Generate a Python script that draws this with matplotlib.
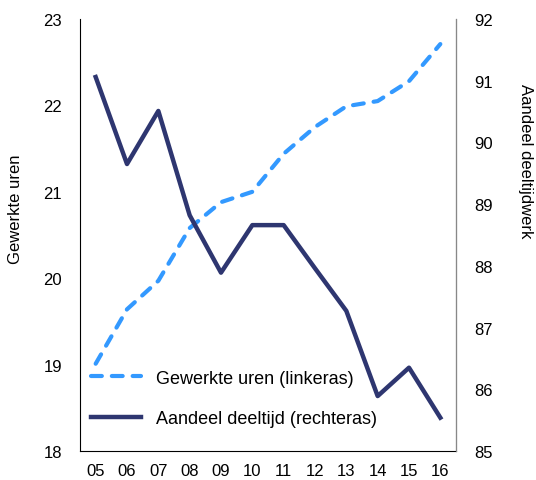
import matplotlib
matplotlib.use('Agg')
import matplotlib.pyplot as plt

plt.rcParams['font.family'] = ['Liberation Sans', 'DejaVu Sans']

years = ['05', '06', '07', '08', '09', '10', '11', '12', '13', '14', '15', '16']
uren = [19.01, 19.64, 19.97, 20.58, 20.88, 21.0, 21.44, 21.75, 21.99, 22.05, 22.28, 22.71]
deeltijd = [91.06, 89.65, 90.51, 88.82, 87.89, 88.66, 88.66, 87.96, 87.27, 85.89, 86.35, 85.54]

fig = plt.figure(figsize=(5.36, 4.81), dpi=100)
ax = fig.add_axes([80/536, 1 - 452/481, 376/536, 432/481])
ax2 = ax.twinx()

x = list(range(len(years)))
l1, = ax.plot(x, uren, color='#3399ff', lw=3, dashes=(2.6, 2.4),
              dash_capstyle='round', label='Gewerkte uren (linkeras)')
l2, = ax2.plot(x, deeltijd, color='#2e3670', lw=3.2,
               label='Aandeel deeltijd (rechteras)')

ax.set_xlim(-0.5, 11.5)
ax.set_ylim(18, 23)
ax2.set_ylim(85, 92)
ax.set_xticks(x)
ax.set_xticklabels(years)
ax.set_yticks(range(18, 24))
ax2.set_yticks(range(85, 93))

for a in (ax, ax2):
    a.spines['top'].set_visible(False)
    a.tick_params(length=0, labelsize=12, pad=13)
ax.tick_params(axis='x', pad=9)
ax2.spines['right'].set_color('#888888')
ax2.spines['left'].set_visible(False)
ax2.spines['bottom'].set_visible(False)

ax.set_ylabel('Gewerkte uren', fontsize=12)
ax.yaxis.set_label_coords(-57/376, 0.5625)
ax2.set_ylabel('Aandeel deeltijdwerk', fontsize=12, rotation=270, va='center')
ax2.yaxis.set_label_coords(1 + 69/376, 0.674)

ax.legend([l1, l2], [l1.get_label(), l2.get_label()], loc='lower left',
          frameon=False, fontsize=13, handlelength=2.8, handletextpad=0.8,
          labelspacing=1.3, borderaxespad=0.2, bbox_to_anchor=(0.0, 0.03))

fig.savefig('out.png', dpi=100)
